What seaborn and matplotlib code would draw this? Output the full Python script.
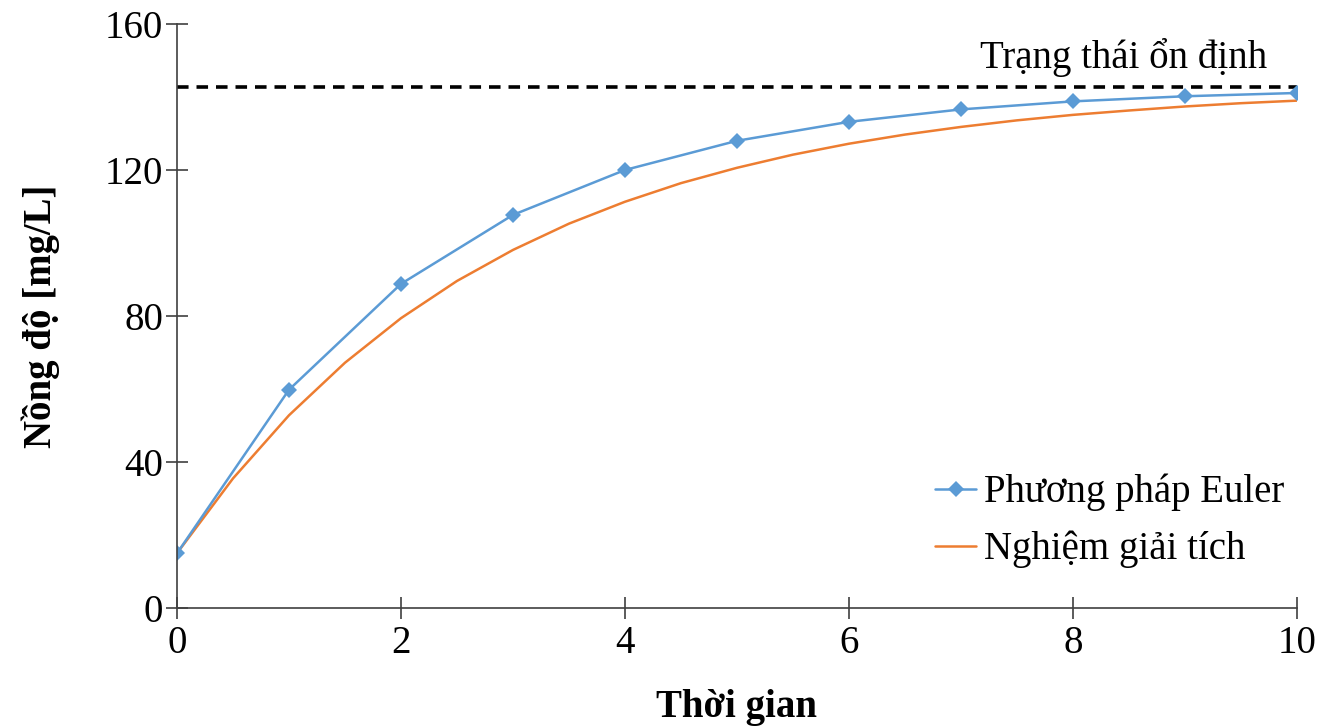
import numpy as np
import pandas as pd
import seaborn as sns
from matplotlib import pyplot as plt

# values
t_euler = [0, 1, 2, 3, 4, 5, 6, 7, 8, 9, 10]
c_euler = [15.0, 59.8, 88.8, 107.7, 120.0, 128.0, 133.2, 136.6, 138.8, 140.2, 141.1]

t_exact = [0, 0.5, 1, 1.5, 2, 2.5, 3, 3.5, 4, 4.5, 5, 5.5, 6, 6.5, 7, 7.5, 8, 8.5, 9, 9.5, 10]
c_exact = [15.0, 35.5, 52.8, 67.2, 79.4, 89.6, 98.1, 105.3, 111.3, 116.4, 120.6,
           124.2, 127.2, 129.7, 131.8, 133.6, 135.1, 136.3, 137.4, 138.3, 139.0]

c_steady = 142.86
steady_x = [0, 10]

sns.set_theme(style='white')
plt.rcParams['font.family'] = ['Liberation Serif', 'DejaVu Serif']
plt.rcParams['text.color'] = 'black'
plt.rcParams['axes.labelcolor'] = 'black'

fig = plt.figure(figsize=(13.23, 7.27), dpi=100)
ax = fig.add_axes([0.1338, 0.1637, 0.8465, 0.8033])

df_euler = pd.DataFrame({'t': t_euler, 'c': c_euler})
df_exact = pd.DataFrame({'t': t_exact, 'c': c_exact})
df_steady = pd.DataFrame({'t': steady_x, 'c': [c_steady] * len(steady_x)})

sns.lineplot(x='t', y='c', data=df_steady, ax=ax, color='black', lw=2.6,
             linestyle=(0, (3.2, 2.2)), legend=False)
sns.lineplot(x='t', y='c', data=df_exact, ax=ax, color='#ED7D31', lw=1.8,
             label='Nghiệm giải tích')
sns.lineplot(x='t', y='c', data=df_euler, ax=ax, color='#5B9BD5', lw=1.8,
             marker='D', markersize=8, markeredgewidth=0,
             label='Phương pháp Euler')

fs = 28
ax.text(8.45, 150.7, 'Trạng thái ổn định', ha='center', va='center', fontsize=fs)

ax.set_xlim(0, 10)
ax.set_ylim(0, 160)
ax.set_xticks(np.arange(0, 11, 2))
ax.set_yticks(np.arange(0, 161, 40))
ax.tick_params(axis='both', which='major', bottom=True, left=True,
               direction='inout', length=16, width=1.2, color='#404040',
               labelcolor='black', labelsize=fs)
ax.tick_params(axis='x', pad=4)
ax.tick_params(axis='y', pad=2)
for s in ['top', 'right']:
    ax.spines[s].set_visible(False)
for s in ['left', 'bottom']:
    ax.spines[s].set_color('#404040')
    ax.spines[s].set_linewidth(1.2)

ax.set_xlabel('Thời gian', fontsize=fs, fontweight='bold', labelpad=20)
ax.set_ylabel('Nồng độ [mg/L]', fontsize=fs, fontweight='bold', labelpad=32)

handles, labels = ax.get_legend_handles_labels()
order = [labels.index('Phương pháp Euler'), labels.index('Nghiệm giải tích')]
ax.legend([handles[i] for i in order], [labels[i] for i in order],
          loc='lower left', bbox_to_anchor=(0.677, 0.068), frameon=False,
          fontsize=fs, handlelength=1.05, handletextpad=0.2, labelspacing=0.5,
          borderaxespad=0, borderpad=0)

fig.savefig('out.png', dpi=100)
